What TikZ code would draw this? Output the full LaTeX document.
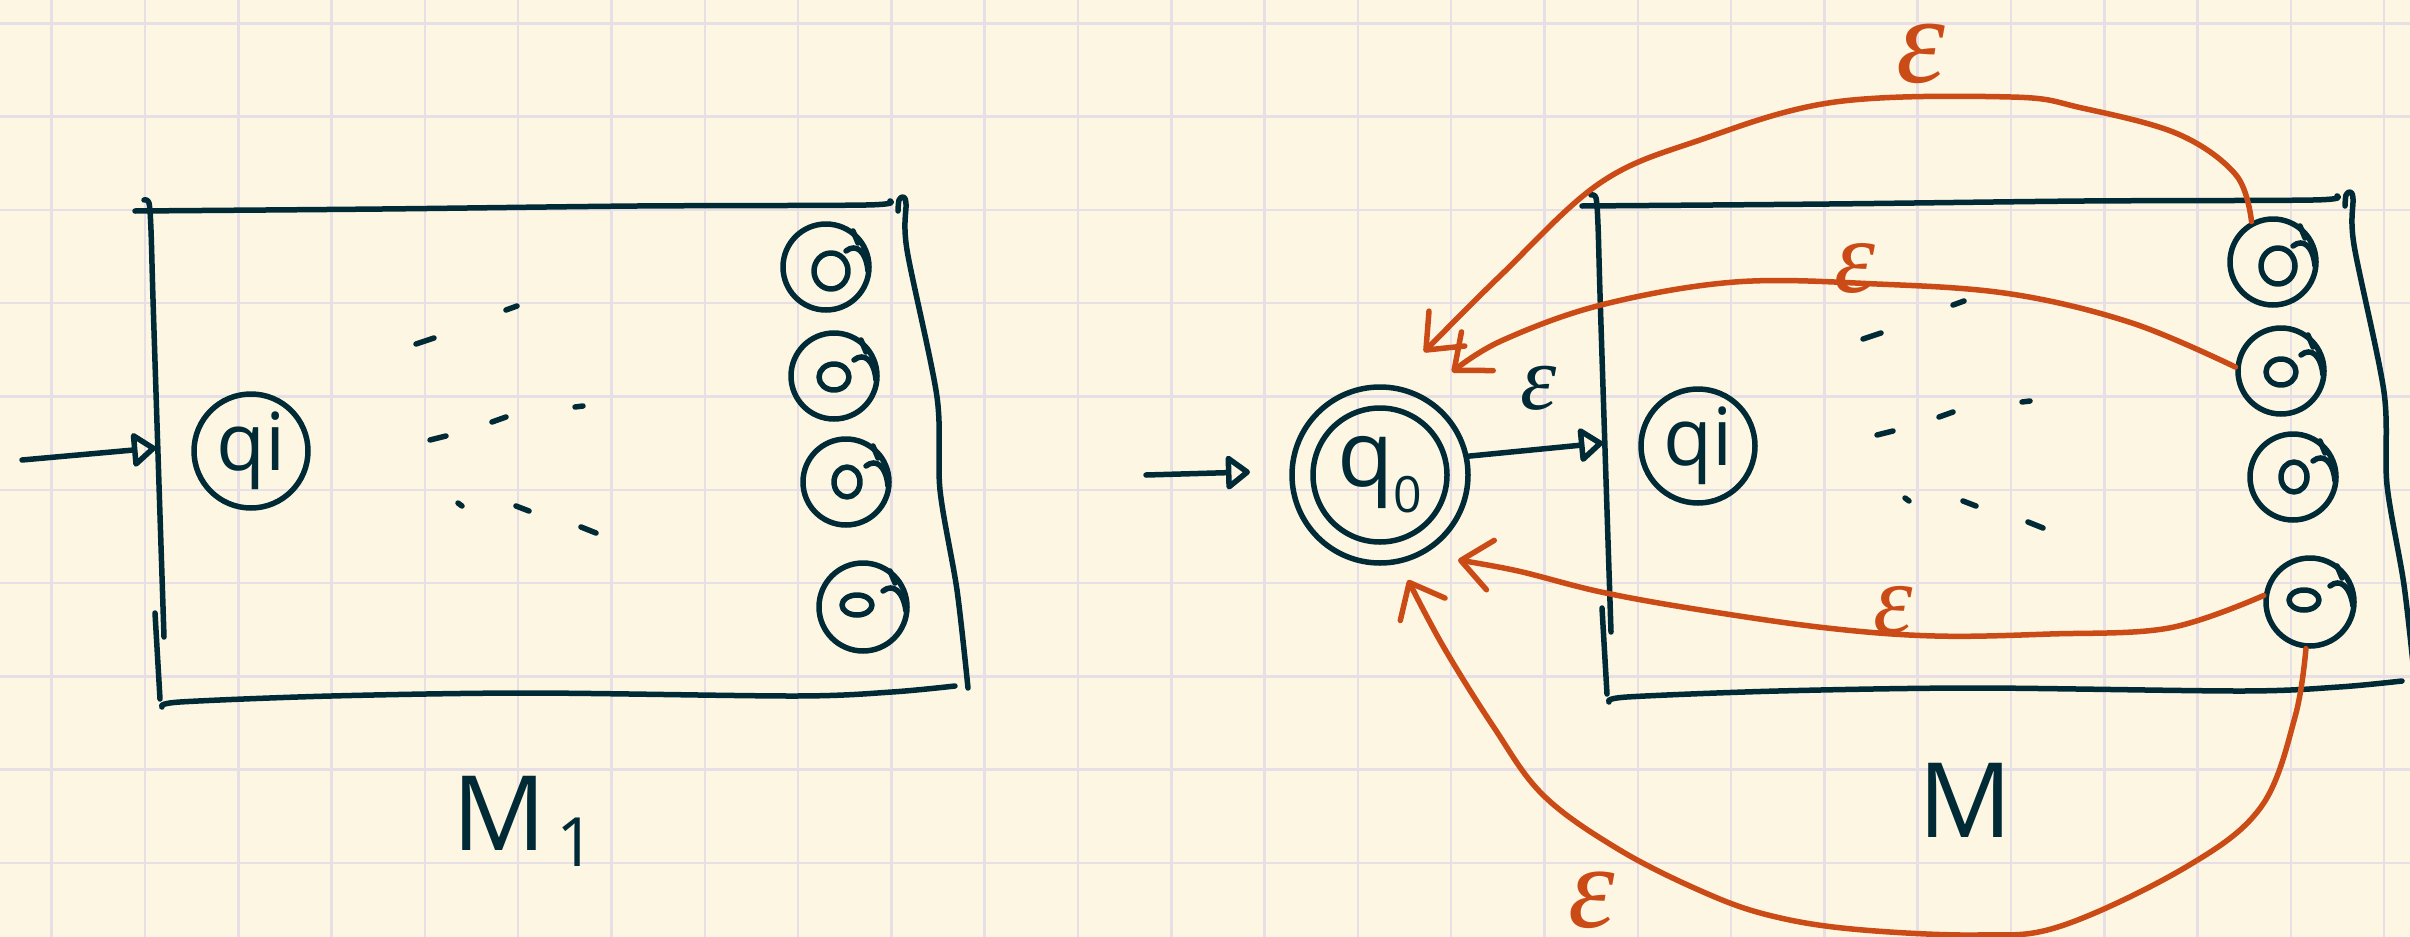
\documentclass[tikz,border=0pt]{standalone}
\usepackage{fontspec}
\setmainfont{Open Sans}
\newfontfamily\epsf{Liberation Serif}
\usetikzlibrary{arrows.meta}
\definecolor{bgc}{HTML}{FDF6E3}
\definecolor{gridc}{HTML}{E6DFE6}
\definecolor{inkc}{HTML}{002B36}
\definecolor{orc}{HTML}{CB4B16}
\tikzset{
  ink/.style={draw=inkc, line width=5.5pt, line cap=round, line join=round},
  ora/.style={draw=orc, line width=5.5pt, line cap=round, line join=round,
    -{Straight Barb[length=30pt,width=50pt,line cap=round,line join=round]}},
  iarrow/.style={-{Triangle[open,length=26pt,width=38pt,line join=round]}},
  st/.style={circle, ink, minimum size=114pt, inner sep=0pt, text=inkc,
    font=\fontsize{80}{80}\selectfont},
  acc/.style={circle, ink, inner sep=0pt},
  lab/.style={inner sep=0pt, text=inkc, font=\fontsize{104}{104}\selectfont},
  epso/.style={inner sep=0pt, text=orc},
  epsk/.style={inner sep=0pt, text=inkc},
}
\newcommand\accst[8]{%
  \node[acc, minimum size=#4*2pt] (#1) at (#2,#3) {};
  \draw[ink] (#2+#5,#3+#6) ellipse [x radius=#7pt, y radius=#8pt];
  \draw[ink] (#2+20,#3-16) .. controls (#2+30,#3-24) and (#2+40,#3-16) .. (#2+#4-1,#3+4);
  \draw[ink] (#2+27,#3-36) -- (#2+32,#3-24);
}
\newcommand\machine[1]{%
  \draw[ink] plot[smooth] coordinates {(135,211) (382,209) (637,206) (866,205) (890,201)};
  \draw[ink] plot[smooth] coordinates {(144,200) (149,203) (151,230) (153,299) (158,454) (164,637)};
  \draw[ink] (155,613) -- (160,699);
  \draw[ink] plot[smooth] coordinates {(162,707) (180,702) (331,696) (529,693) (796,696) (892,692) (955,686)};
  \draw[ink] plot[smooth] coordinates {(898,211) (899,200) (903,197) (906,204) (907,250) (937,397) (940,490) (957,590) (968,688)};
  \coordinate (#1-in) at (156,448);
  \node[st] (#1-qi) at (251,451) {qi};
  \accst{#1-f1}{826}{267}{43}{5}{4}{17}{18}
  \accst{#1-f2}{834}{376}{43}{0}{1}{15}{13}
  \accst{#1-f3}{846}{482}{43}{1}{0}{13}{15}
  \accst{#1-f4}{863}{607}{44}{-6}{-2}{15}{10}
  \foreach \a/\b/\c/\d in {506/310/517/306, 416/344/434/338, 492/422/506/417,
      575/407/583/406, 430/440/446/436, 458/503/462/506, 516/506/529/511, 581/527/596/533}
    \draw[ink] (\a,\b) -- (\c,\d);
}
\begin{document}
\begin{tikzpicture}[x=1pt,y=-1pt]
\useasboundingbox (0,0) rectangle (2410,937);
\fill[bgc] (0,0) rectangle (2410,937);
\foreach \k in {0,...,25} \draw[gridc, line width=2.5pt] (51.7+93.3*\k,0) -- (51.7+93.3*\k,937);
\foreach \k in {0,...,9} \draw[gridc, line width=2.5pt] (0,23.3+93.3*\k) -- (2410,23.3+93.3*\k);

\begin{scope}
  \machine{L}
\end{scope}
\begin{scope}[shift={(1447,-5)}]
  \machine{R}
\end{scope}

% labels
\node[lab, anchor=base west] (m1lab) at (452,850) {M{\fontsize{68}{68}\selectfont\hspace{10pt}\raisebox{-16pt}{1}}};
\node[lab, anchor=base west] (mlab) at (1918,837) {M};

% start arrow M1
\coordinate (Lstart) at (22,460);
\draw[ink, iarrow] (Lstart) -- (L-in);

% new start state
\node[circle, ink, minimum size=176pt, inner sep=0pt, text=inkc,
  font=\fontsize{92}{92}\selectfont] (q0) at (1380,475)
  {q{\fontsize{50}{50}\selectfont\raisebox{-26pt}{0}}};
\draw[ink] (q0.center) circle [radius=67pt];
\coordinate (q0start) at (1146,475);
\coordinate (q0tip) at (1250,472);
\draw[ink, iarrow] (q0start) -- (q0tip);
\draw[ink, iarrow] (q0.12) -- (R-in);
\node[epsk, font=\fontsize{92}{92}\selectfont\epsf\itshape] (e0) at (1539,388) {ε};

% epsilon arrows back to q0
\coordinate (tipA) at (1424,352);
\coordinate (tipB) at (1452,372);
\coordinate (tipC) at (1458,560);
\coordinate (tipD) at (1408,580);
\draw[ora] plot[smooth, tension=0.6] coordinates {(R-f1.118) (2236,175) (2178,134) (2082,108) (2011,97) (1835,102) (1700,140) (1600,183) (1501,275) (tipA)};
\draw[ora] plot[smooth, tension=0.6] coordinates {(R-f2.175) (2132,323) (2011,294) (1877,284) (1735,282) (1601,305) (1501,341) (tipB)};
\draw[ora] plot[smooth, tension=0.6] coordinates {(R-f4.172) (2169,628) (2050,634) (1935,636) (1827,628) (1701,610) (1601,592) (1518,571) (tipC)};
\draw[ora] plot[smooth, tension=0.6] coordinates {(R-f4.-95) (2295,717) (2261,807) (2186,867) (2061,926) (1977,935) (1852,929) (1768,915) (1701,891) (1618,849) (1543,795) (1493,726) (1443,646) (tipD)};

\node[epso, font=\fontsize{124}{124}\selectfont\epsf\itshape] (eA) at (1921,54) {ε};
\node[epso, font=\fontsize{104}{104}\selectfont\epsf\itshape] (eB) at (1855,269) {ε};
\node[epso, font=\fontsize{100}{100}\selectfont\epsf\itshape] (eC) at (1893,610) {ε};
\node[epso, font=\fontsize{118}{118}\selectfont\epsf\itshape] (eD) at (1592,900) {ε};
\end{tikzpicture}
\end{document}
